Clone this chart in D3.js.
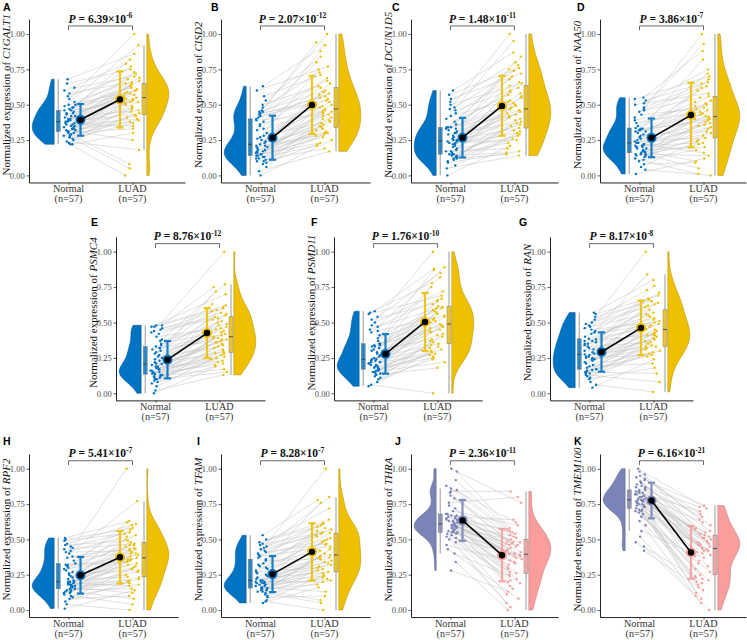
<!DOCTYPE html>
<html><head><meta charset="utf-8">
<script src="https://cdn.jsdelivr.net/npm/d3@7"></script>
<style>body{margin:0;background:#fff}svg{display:block}</style>
</head><body><svg id="c" width="747" height="640"></svg>
<script>
// ---------------- DATA ----------------
const panelLetters = ["A","B","C","D","E","F","G","H","I","J","K"];
const genes = ["C1GALT1","CISD2","DCUN1D5","NAA50","PSMC4","PSMD11","RAN","RPF2","TFAM","THRA","TMEM100"];
const pMantissa = ["6.39","2.07","1.48","3.86","8.76","1.76","8.17","5.41","8.28","2.36","6.16"];
const pExponent = ["-6","-12","-11","-7","-12","-10","-8","-7","-7","-11","-21"];
const categories = ["Normal","LUAD"];
const categoryN = ["(n=57)","(n=57)"];
const yTicks = [0, 0.25, 0.5, 0.75, 1];

// pairing: LUAD sample index matched to each Normal sample index
const pairIndex = [5,0,12,3,20,8,1,15,27,10,2,18,6,31,13,24,4,9,36,21,16,29,11,40,7,25,33,19,44,14,38,22,28,49,17,35,42,26,53,30,46,23,39,51,32,37,55,34,45,41,56,48,43,52,47,50,54];

const normal_C1GALT1 = [.22,.22,.23,.24,.25,.26,.27,.27,.28,.28,.29,.29,.30,.30,.31,.31,.32,.32,.33,.33,.34,.34,.35,.35,.36,.36,.37,.37,.38,.38,.39,.39,.40,.40,.41,.42,.42,.43,.44,.44,.45,.46,.46,.47,.48,.48,.49,.50,.50,.52,.54,.56,.58,.60,.62,.65,.68];
const luad_C1GALT1 = [0,.05,.08,.18,.25,.30,.33,.35,.37,.38,.39,.40,.41,.42,.43,.44,.45,.46,.47,.48,.49,.50,.51,.52,.52,.53,.54,.54,.55,.56,.57,.58,.58,.59,.60,.60,.61,.62,.63,.63,.64,.65,.65,.66,.67,.68,.69,.70,.72,.73,.75,.77,.79,.82,.86,.92,1];
const normal_CISD2 = [0,.03,.06,.08,.09,.10,.10,.11,.12,.12,.13,.13,.14,.14,.14,.15,.15,.16,.16,.17,.17,.18,.18,.19,.20,.20,.21,.21,.22,.23,.24,.25,.26,.27,.28,.30,.32,.33,.35,.36,.38,.39,.40,.41,.42,.43,.44,.44,.45,.45,.46,.48,.50,.53,.56,.60,.63];
const luad_CISD2 = [.17,.19,.21,.22,.23,.25,.27,.28,.29,.30,.30,.31,.32,.33,.34,.35,.36,.37,.38,.39,.40,.41,.42,.43,.44,.45,.45,.46,.47,.48,.49,.50,.51,.52,.53,.54,.55,.56,.57,.58,.59,.60,.62,.63,.65,.67,.69,.71,.73,.75,.77,.80,.84,.88,.92,.94,1];
const normal_DCUN1D5 = [0,.05,.07,.09,.10,.11,.12,.12,.13,.13,.14,.14,.15,.15,.15,.16,.17,.17,.18,.19,.20,.21,.22,.22,.23,.23,.24,.24,.245,.25,.25,.26,.27,.28,.29,.30,.30,.31,.32,.33,.33,.34,.34,.34,.36,.38,.40,.42,.44,.46,.47,.48,.50,.52,.54,.57,.60];
const luad_DCUN1D5 = [.14,.15,.16,.17,.19,.21,.23,.25,.26,.28,.29,.30,.31,.32,.335,.35,.36,.37,.38,.39,.40,.41,.42,.43,.44,.45,.46,.46,.47,.48,.49,.50,.51,.52,.53,.55,.56,.57,.58,.59,.60,.62,.635,.65,.66,.68,.70,.72,.74,.75,.76,.78,.80,.84,.87,.95,1];
const normal_NAA50 = [.01,.04,.06,.08,.10,.11,.12,.13,.14,.14,.15,.15,.15,.16,.16,.17,.17,.18,.19,.19,.20,.20,.21,.21,.22,.22,.23,.23,.23,.24,.25,.26,.27,.28,.29,.30,.31,.31,.32,.32,.33,.33,.335,.35,.37,.39,.41,.43,.45,.46,.47,.48,.50,.51,.53,.54,.55];
const luad_NAA50 = [0,.01,.05,.09,.10,.12,.14,.16,.18,.20,.22,.23,.24,.25,.265,.28,.30,.31,.33,.34,.35,.36,.37,.38,.39,.40,.40,.41,.415,.42,.43,.44,.45,.46,.47,.48,.49,.50,.51,.52,.53,.55,.56,.58,.60,.62,.63,.65,.66,.68,.70,.72,.75,.82,.88,.93,1];
const normal_PSMC4 = [0,.02,.05,.07,.08,.09,.10,.10,.11,.11,.12,.12,.13,.13,.135,.14,.14,.15,.15,.16,.16,.17,.17,.18,.18,.19,.19,.20,.207,.21,.22,.23,.24,.25,.26,.27,.28,.29,.30,.31,.32,.32,.33,.34,.35,.37,.38,.40,.42,.43,.44,.45,.46,.47,.47,.48,.48];
const luad_PSMC4 = [.13,.15,.17,.19,.20,.21,.22,.23,.24,.25,.26,.27,.28,.285,.29,.30,.31,.32,.33,.34,.35,.36,.36,.37,.38,.38,.39,.39,.40,.41,.42,.43,.44,.45,.46,.47,.48,.49,.50,.51,.52,.53,.54,.55,.56,.57,.58,.59,.60,.61,.62,.63,.70,.72,.75,.77,1];
const normal_PSMD11 = [.05,.06,.08,.10,.11,.12,.13,.14,.14,.15,.15,.16,.16,.17,.17,.18,.18,.19,.19,.20,.20,.21,.21,.22,.22,.23,.23,.24,.24,.25,.26,.27,.28,.29,.30,.31,.32,.33,.33,.34,.34,.35,.35,.37,.39,.41,.43,.44,.45,.47,.48,.50,.52,.54,.56,.57,.58];
const luad_PSMD11 = [0,.18,.22,.24,.25,.26,.27,.28,.29,.30,.31,.32,.33,.34,.35,.36,.37,.38,.40,.41,.42,.43,.44,.45,.46,.47,.48,.48,.49,.50,.51,.52,.53,.54,.55,.56,.57,.58,.59,.60,.60,.61,.615,.63,.65,.66,.67,.69,.72,.75,.78,.82,.85,.87,.88,.89,1];
const normal_RAN = [.04,.06,.08,.10,.11,.12,.13,.14,.14,.15,.15,.16,.16,.165,.17,.18,.19,.20,.21,.22,.23,.24,.24,.25,.25,.26,.26,.27,.275,.28,.29,.30,.31,.32,.33,.34,.35,.35,.36,.37,.37,.38,.385,.40,.42,.43,.44,.45,.46,.47,.48,.49,.50,.52,.54,.56,.57];
const luad_RAN = [.01,.08,.14,.18,.21,.24,.26,.27,.28,.29,.30,.31,.32,.33,.33,.34,.35,.36,.37,.38,.39,.40,.41,.41,.42,.42,.43,.44,.45,.45,.46,.47,.48,.49,.50,.51,.52,.53,.54,.55,.56,.57,.59,.61,.62,.63,.64,.65,.66,.67,.69,.71,.73,.76,.80,.84,1];
const normal_RPF2 = [.01,.04,.06,.08,.09,.10,.11,.12,.12,.13,.13,.14,.14,.15,.15,.16,.16,.17,.17,.17,.18,.18,.18,.19,.19,.19,.20,.20,.20,.21,.22,.23,.24,.25,.26,.27,.28,.29,.30,.31,.32,.32,.33,.35,.37,.38,.40,.41,.42,.43,.44,.45,.46,.47,.49,.50,.51];
const luad_RPF2 = [0,.04,.08,.10,.12,.14,.15,.17,.18,.19,.20,.21,.22,.23,.235,.25,.27,.28,.29,.30,.31,.32,.33,.34,.35,.35,.36,.36,.37,.38,.39,.40,.40,.41,.42,.43,.43,.44,.45,.46,.46,.47,.48,.49,.50,.52,.53,.54,.55,.57,.58,.60,.61,.62,.63,.77,1];
const normal_TFAM = [.05,.06,.07,.09,.10,.11,.12,.13,.13,.14,.14,.15,.15,.15,.155,.16,.16,.17,.17,.18,.18,.19,.19,.19,.20,.20,.20,.21,.21,.22,.23,.24,.25,.26,.27,.28,.29,.30,.31,.32,.33,.35,.36,.37,.38,.39,.40,.41,.42,.43,.44,.45,.46,.47,.48,.50,.53];
const luad_TFAM = [0,.05,.07,.10,.13,.16,.18,.20,.21,.22,.23,.24,.25,.26,.27,.28,.29,.30,.31,.32,.33,.34,.35,.36,.37,.37,.38,.38,.39,.40,.42,.43,.45,.46,.47,.48,.49,.50,.51,.52,.53,.54,.545,.55,.56,.57,.58,.59,.60,.61,.62,.64,.72,.76,.78,.80,1];
const normal_THRA = [.28,.34,.40,.43,.46,.48,.50,.51,.52,.53,.54,.54,.55,.55,.55,.56,.56,.57,.57,.58,.58,.59,.59,.59,.60,.60,.60,.61,.61,.62,.62,.63,.63,.64,.64,.65,.65,.66,.66,.67,.67,.68,.68,.70,.72,.74,.76,.79,.81,.83,.84,.85,.86,.88,.92,.98,1];
const luad_THRA = [0,.02,.05,.08,.11,.13,.15,.17,.19,.20,.21,.22,.24,.25,.26,.27,.29,.30,.32,.33,.34,.35,.36,.37,.38,.38,.39,.39,.395,.40,.41,.42,.43,.44,.45,.46,.46,.47,.47,.48,.48,.49,.50,.51,.52,.53,.54,.55,.56,.57,.58,.60,.62,.64,.76,.80,.84];
const normal_TMEM100 = [.42,.45,.48,.52,.56,.60,.63,.66,.68,.69,.70,.70,.71,.71,.72,.73,.73,.74,.74,.75,.75,.76,.76,.77,.77,.77,.78,.78,.78,.79,.79,.80,.80,.81,.81,.82,.82,.83,.83,.84,.84,.85,.85,.86,.87,.87,.88,.89,.90,.91,.92,.93,.94,.95,.96,.98,1];
const luad_TMEM100 = [0,.05,.08,.10,.12,.14,.16,.18,.19,.20,.21,.22,.23,.24,.25,.27,.29,.31,.33,.35,.37,.38,.39,.40,.41,.42,.42,.43,.435,.44,.45,.46,.46,.47,.47,.48,.48,.49,.50,.51,.51,.52,.53,.54,.55,.56,.57,.58,.60,.62,.64,.66,.68,.70,.72,.73,.74];

const normalSeries = [normal_C1GALT1,normal_CISD2,normal_DCUN1D5,normal_NAA50,normal_PSMC4,normal_PSMD11,normal_RAN,normal_RPF2,normal_TFAM,normal_THRA,normal_TMEM100];
const luadSeries = [luad_C1GALT1,luad_CISD2,luad_DCUN1D5,luad_NAA50,luad_PSMC4,luad_PSMD11,luad_RAN,luad_RPF2,luad_TFAM,luad_THRA,luad_TMEM100];

// ---------------- LAYOUT / STYLE ----------------
const layout = [
 {axisX:29,  y0:175.4, y1:34,    right:185, lx:3,   ly:11},
 {axisX:221, y0:175.4, y1:34,    right:370, lx:211, ly:11},
 {axisX:411, y0:175.4, y1:34,    right:558, lx:392, ly:11},
 {axisX:600, y0:175.4, y1:34,    right:746, lx:577, ly:11},
 {axisX:116, y0:393.3, y1:251.7, right:265, lx:91,  ly:226},
 {axisX:334, y0:393.3, y1:251.7, right:482, lx:311, ly:226},
 {axisX:550, y0:393.3, y1:251.7, right:693, lx:519, ly:226},
 {axisX:29,  y0:610,   y1:468.8, right:178, lx:3,   ly:445},
 {axisX:221, y0:610,   y1:468.8, right:370, lx:197, ly:445},
 {axisX:411, y0:610,   y1:468.8, right:558, lx:395, ly:445},
 {axisX:600, y0:610,   y1:468.8, right:746, lx:574, ly:445}
];
const paletteUp = ["#0073C2","#EFC000"];
const paletteDown = ["#7A84B7","#F99D9D"];
const serif = "'Liberation Serif','Times New Roman',serif";
const sans = "'Liberation Sans',Arial,sans-serif";

const svg = d3.select("#c");

function densityCurve(vals){
  const s = vals.slice().sort(d3.ascending);
  const sd = d3.deviation(s);
  const iqr = d3.quantile(s,.75) - d3.quantile(s,.25);
  const bw = 0.9*Math.min(sd, iqr/1.34)*Math.pow(s.length,-0.2);
  const lo = s[0], hi = s[s.length-1];
  const grid = d3.range(0,101).map(i => lo + (hi-lo)*i/100);
  const d = grid.map(g => [g, d3.sum(s, v => Math.exp(-0.5*((g-v)/bw)**2))]);
  const m = d3.max(d, e => e[1]);
  return d.map(e => [e[0], e[1]/m]);
}
// deterministic horizontal jitter offset (position only), in [-0.5, 0.5]
function jit(i, seed){ const t = Math.sin((i+1)*12.9898 + seed*78.233)*43758.5453; return (t - Math.floor(t)) - 0.5; }

layout.forEach((L, p) => {
  const g = svg.append("g");
  const pal = p >= 9 ? paletteDown : paletteUp;
  const span = L.y0 - L.y1;
  const yb = L.y0 + 0.05*span, yt = L.y0 - 1.105*span;
  const y = d3.scaleLinear().domain([-0.05, 1.105]).range([yb, yt]);
  const xmin = 1 - 39.5/64;
  const x = d3.scaleLinear().domain([xmin, xmin + (L.right - L.axisX)/64]).range([L.axisX, L.right]);
  const groups = [normalSeries[p], luadSeries[p]];
  const cx = [x(1), x(2)];

  // violins
  groups.forEach((vals, k) => {
    const dc = densityCurve(vals);
    const flat = k === 0 ? cx[0] - 14.3 : cx[1] + 14.3;
    const sgn = k === 0 ? -1 : 1;
    const area = d3.area().y(d => y(d[0])).x0(flat).x1(d => flat + sgn*22*d[1]).curve(d3.curveBasis);
    g.append("path").attr("d", area(dc)).attr("fill", pal[k])
      .attr("stroke", d3.color(pal[k]).darker(0.9)).attr("stroke-width", 0.5);
  });

  // boxplots
  groups.forEach((vals, k) => {
    const s = vals.slice().sort(d3.ascending);
    const q1 = d3.quantile(s,.25), med = d3.quantile(s,.5), q3 = d3.quantile(s,.75);
    const iqr = q3 - q1;
    const lw = d3.min(s.filter(v => v >= q1 - 1.5*iqr));
    const hw = d3.max(s.filter(v => v <= q3 + 1.5*iqr));
    const bx = k === 0 ? cx[0] - 10.3 : cx[1] + 11.5;
    g.append("line").attr("x1", bx).attr("x2", bx).attr("y1", y(lw)).attr("y2", y(hw))
      .attr("stroke", "#8c8c8c").attr("stroke-width", 0.9);
    g.append("rect").attr("x", bx-2).attr("width", 4).attr("y", y(q3)).attr("height", y(q1)-y(q3))
      .attr("fill", pal[k]).attr("fill-opacity", 0.8).attr("stroke", "#777").attr("stroke-width", 0.5);
    g.append("line").attr("x1", bx-2).attr("x2", bx+2).attr("y1", y(med)).attr("y2", y(med))
      .attr("stroke", "#333").attr("stroke-width", 0.8);
  });

  // paired points positions
  const nPts = groups[0].map((v, i) => ({x: cx[0] + 1 + 12*jit(i, p*2+1), y: y(v)}));
  const lPts = groups[1].map((v, i) => ({x: cx[1] - 0.5 + 16*jit(i, p*2+2), y: y(v)}));
  pairIndex.forEach((li, i) => {
    if (!nPts[i] || !lPts[li]) return;
    g.append("line").attr("x1", nPts[i].x).attr("y1", nPts[i].y).attr("x2", lPts[li].x).attr("y2", lPts[li].y)
      .attr("stroke", "#c2c2c2").attr("stroke-width", 0.5);
  });
  [nPts, lPts].forEach((pts, k) => {
    g.selectAll(null).data(pts).enter().append("circle")
      .attr("cx", d => d.x).attr("cy", d => d.y).attr("r", 1.2).attr("fill", pal[k]);
  });

  // error bars (mean ± sd)
  const stats = groups.map(v => ({m: d3.mean(v), s: d3.deviation(v)}));
  const ex = [cx[0] + 12, cx[1] - 12.5];
  stats.forEach((st, k) => {
    const eg = g.append("g").attr("stroke", pal[k]).attr("stroke-width", 2.2).attr("opacity", 0.9);
    eg.append("line").attr("x1", ex[k]).attr("x2", ex[k]).attr("y1", y(st.m - st.s)).attr("y2", y(st.m + st.s));
    [st.m - st.s, st.m + st.s].forEach(v => eg.append("line").attr("x1", ex[k]-3.6).attr("x2", ex[k]+3.6).attr("y1", y(v)).attr("y2", y(v)));
  });
  stats.forEach((st, k) => g.append("circle").attr("cx", ex[k]).attr("cy", y(st.m)).attr("r", 5).attr("fill", pal[k]));
  g.append("line").attr("x1", ex[0]).attr("y1", y(stats[0].m)).attr("x2", ex[1]).attr("y2", y(stats[1].m))
    .attr("stroke", "#000").attr("stroke-width", 1.6);
  stats.forEach((st, k) => g.append("circle").attr("cx", ex[k]).attr("cy", y(st.m)).attr("r", 3.2).attr("fill", "#000"));

  // axes
  const ay = g.append("g").attr("transform", `translate(${L.axisX},0)`)
    .call(d3.axisLeft(y).tickValues(yTicks).tickFormat(d3.format(".2f")).tickSize(2.5).tickSizeOuter(0).tickPadding(1.8));
  ay.select(".domain").attr("stroke", "#222").attr("stroke-width", 1);
  ay.selectAll(".tick line").attr("stroke", "#333").attr("stroke-width", 0.8);
  ay.selectAll("text").attr("font-family", serif).attr("font-size", 8.5).attr("fill", "#4d4d4d");

  const ax = g.append("g").attr("transform", `translate(0,${yb})`)
    .call(d3.axisBottom(x).tickValues([1,2]).tickFormat("").tickSize(2.5).tickSizeOuter(0));
  ax.select(".domain").attr("stroke", "#222").attr("stroke-width", 1);
  ax.selectAll(".tick line").attr("stroke", "#333").attr("stroke-width", 0.8);
  categories.forEach((c, k) => {
    g.append("text").attr("x", cx[k]).attr("y", yb + 9.8).attr("text-anchor", "middle")
      .attr("font-family", serif).attr("font-size", 10.2).attr("fill", "#333").text(c);
    g.append("text").attr("x", cx[k]).attr("y", yb + 19.8).attr("text-anchor", "middle")
      .attr("font-family", serif).attr("font-size", 10.2).attr("fill", "#333").text(categoryN[k]);
  });

  // y title
  const tcy = L.y0 - 0.57*span;
  const tt = g.append("text").attr("transform", `translate(${L.axisX - 19.5},${tcy}) rotate(-90)`)
    .attr("text-anchor", "middle").attr("font-family", serif).attr("font-size", 11).attr("fill", "#111");
  tt.append("tspan").text("Normalized expression of ");
  tt.append("tspan").attr("font-style", "italic").text(genes[p]);

  // significance bracket
  const by = y(1.057), byl = y(1.027);
  g.append("path").attr("d", `M${cx[0]},${byl}V${by}H${cx[1]}V${byl}`)
    .attr("fill", "none").attr("stroke", "#444").attr("stroke-width", 0.8);
  const pt = g.append("text").attr("x", (cx[0]+cx[1])/2).attr("y", by - 3.3).attr("text-anchor", "middle")
    .attr("font-family", serif).attr("font-weight", "bold").attr("font-size", 11.5).attr("fill", "#111");
  pt.append("tspan").attr("font-style", "italic").text("P");
  pt.append("tspan").text(" = " + pMantissa[p] + "×10");
  pt.append("tspan").attr("dy", -4.5).attr("font-size", 7.5).text(pExponent[p]);

  // panel letter
  g.append("text").attr("x", L.lx).attr("y", L.ly).attr("font-family", sans).attr("font-weight", "bold")
    .attr("font-size", 10.5).attr("fill", "#000").text(panelLetters[p]);
});
</script>
</body></html>
